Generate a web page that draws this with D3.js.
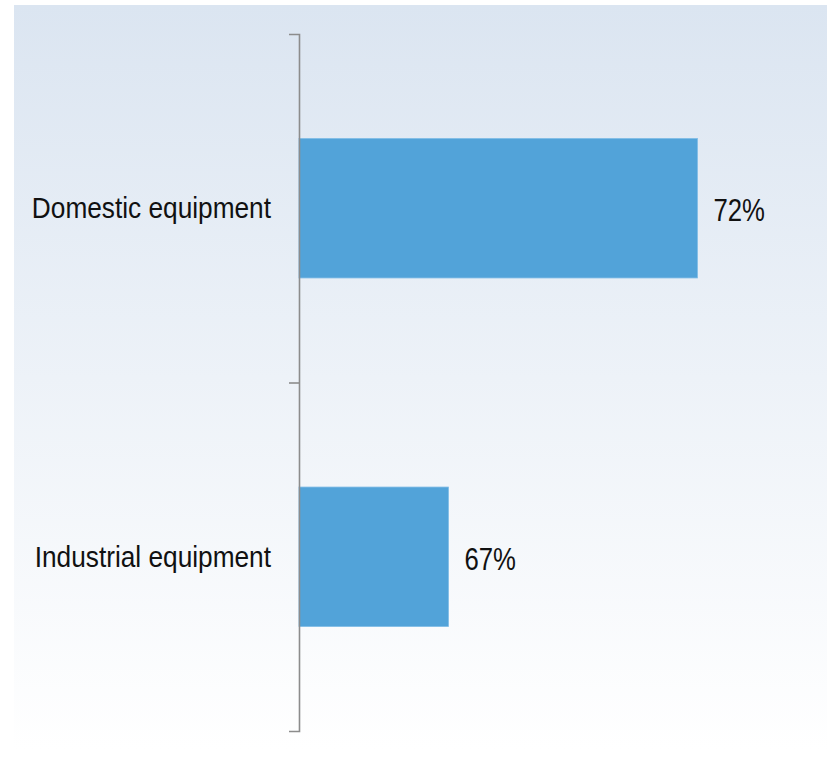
<!DOCTYPE html>
<html>
<head>
<meta charset="utf-8">
<script src="https://cdn.jsdelivr.net/npm/d3@7"></script>
<style>
  body { margin: 0; background: #fff; }
  text { font-family: "Liberation Sans", Arial, sans-serif; fill: #111; }
</style>
</head>
<body>
<div id="chart"></div>
<script>
const categories = ["Domestic equipment", "Industrial equipment"];
const shares = [72, 67];
const valueLabels = ["72%", "67%"];

const W = 827, H = 758;

const svg = d3.select("#chart").append("svg")
  .attr("width", W).attr("height", H);

// background gradient
const grad = svg.append("defs").append("linearGradient")
  .attr("id", "bg").attr("x1", 0).attr("y1", 0).attr("x2", 0).attr("y2", 1);
grad.append("stop").attr("offset", "0%").attr("stop-color", "#dbe5f1");
grad.append("stop").attr("offset", "100%").attr("stop-color", "#ffffff");
svg.append("rect").attr("x", 14).attr("y", 5).attr("width", W - 14).attr("height", 745)
  .attr("fill", "url(#bg)");

const axisX = 299, plotTop = 34, plotBottom = 731;

let y = d3.scaleBand().domain(categories).range([plotTop, plotBottom])
      .paddingInner(0.6).paddingOuter(0.3),
    x = d3.scaleLinear().domain([64, 74]).range([axisX, 797]),
    yIdx = d3.scaleLinear().domain([0, categories.length]).range([plotTop, plotBottom]);

const data = categories.map((c, i) => ({ cat: c, v: shares[i], label: valueLabels[i] }));

// bars
svg.selectAll(".bar").data(data).enter().append("rect")
  .attr("class", "bar")
  .attr("x", x(64))
  .attr("y", d => y(d.cat))
  .attr("width", d => x(d.v) - x(64))
  .attr("height", y.bandwidth())
  .attr("fill", "#52a3d9")
  .attr("stroke", "#7dbbe5").attr("stroke-width", 0.8);

// axis with ticks at band boundaries
const ax = svg.append("g").attr("transform", `translate(${axisX},0)`)
  .call(d3.axisLeft(yIdx).tickValues(d3.range(1, categories.length)).tickSize(10).tickSizeOuter(10).tickFormat(""));
ax.select(".domain").attr("stroke", "#8c8c8c").attr("stroke-width", 1.6);
ax.selectAll(".tick line").attr("stroke", "#8c8c8c").attr("stroke-width", 1.6);

// category labels
svg.selectAll(".cat").data(data).enter().append("text")
  .attr("class", "cat")
  .attr("transform", d => `translate(271,${y(d.cat) + y.bandwidth() / 2}) scale(0.875,1)`)
  .attr("dy", "0.33em")
  .attr("text-anchor", "end")
  .style("font-size", "30px")
  .text(d => d.cat);

// value labels
svg.selectAll(".val").data(data).enter().append("text")
  .attr("class", "val")
  .attr("transform", d => `translate(${x(d.v) + 16},${y(d.cat) + y.bandwidth() / 2}) scale(0.83,1)`)
  .attr("dy", "0.42em")
  .style("font-size", "31px")
  .text(d => d.label);
</script>
</body>
</html>
